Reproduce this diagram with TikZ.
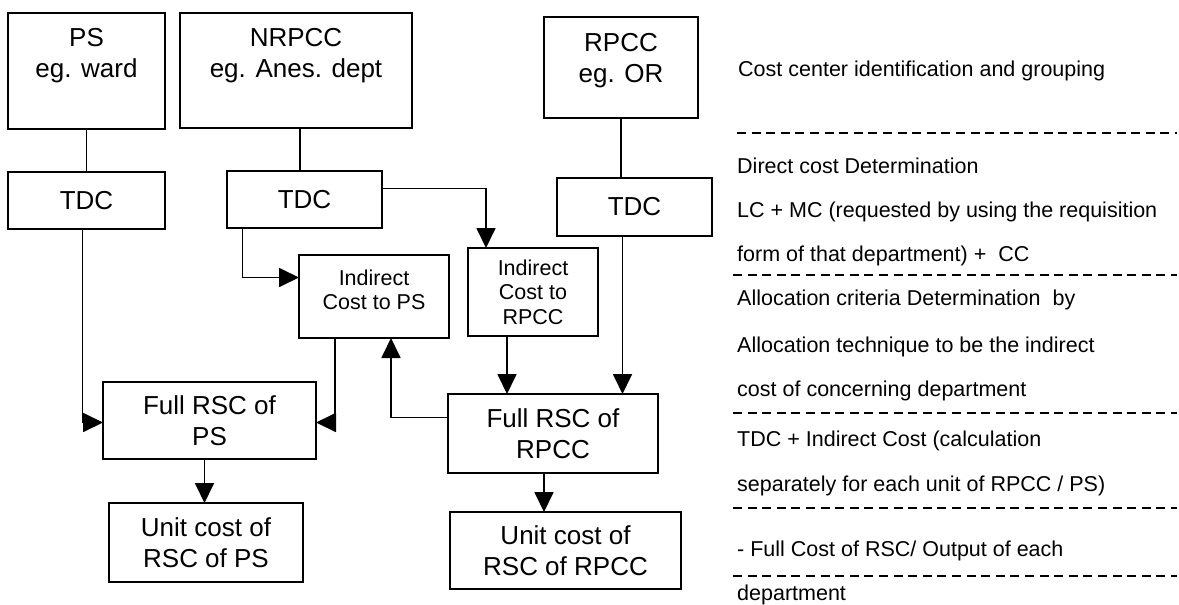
\documentclass[tikz,border=0pt]{standalone}
\usepackage{fontspec}
\setmainfont{Liberation Sans}
\usetikzlibrary{arrows.meta}
\tikzset{
  box/.style={draw=black, line width=1.8pt, rectangle, inner sep=0pt, outer sep=0pt, align=center,
              font=\fontsize{26}{31}\selectfont},
  lbl/.style={inner sep=0pt, align=center, font=\fontsize{26}{31}\selectfont},
  slbl/.style={inner sep=0pt, align=center, font=\fontsize{21.5}{24.5}\selectfont},
  note/.style={inner sep=0pt, anchor=base west, font=\fontsize{21.5}{25}\selectfont},
  conn/.style={draw=black, line width=1.8pt},
  arr/.style={conn, -{Triangle[length=20pt,width=19pt]}},
  sep/.style={draw=black, line width=1.8pt, dash pattern=on 9pt off 5.6pt}
}
\begin{document}
\begin{tikzpicture}[x=1pt,y=-1pt]
\useasboundingbox[fill=white] (0,0) rectangle (1179,605);

% top boxes
\node[box, minimum width=157, minimum height=116] (ps) at (86.5,71) {};
\node[lbl, anchor=north] (pst) at (86.5,28.5) {PS\\eg. ward};
\node[box, minimum width=232, minimum height=115] (nrpcc) at (296,70.5) {};
\node[lbl, anchor=north] (nrpcct) at (296,28.5) {NRPCC\\eg. Anes. dept};
\node[box, minimum width=154, minimum height=101] (rpcc) at (621,67.5) {};
\node[lbl, anchor=north] (rpcct) at (621,33.5) {RPCC\\eg. OR};

% TDC boxes
\node[box, minimum width=157, minimum height=57] (tdc1) at (86.5,200.5) {TDC};
\node[box, minimum width=155, minimum height=57] (tdc2) at (304.5,199.5) {TDC};
\node[box, minimum width=155, minimum height=58] (tdc3) at (634.5,207) {TDC};

% indirect boxes
\node[box, minimum width=150, minimum height=83] (indps) at (374,296.5) {};
\node[slbl] (indpst) at (374,290) {Indirect\\Cost to PS};
\node[box, slbl, minimum width=130, minimum height=88] (indrpcc) at (533,292) {Indirect\\Cost to\\RPCC};

% full RSC boxes
\node[box, minimum width=213, minimum height=77] (fullps) at (209.5,420.5) {Full RSC of\\PS};
\node[box, minimum width=210, minimum height=79] (fullrpcc) at (553,433.5) {Full RSC of\\RPCC};

% unit cost boxes
\node[box, minimum width=194, minimum height=79] (unitps) at (206,542.5) {Unit cost of\\RSC of PS};
\node[box, minimum width=231, minimum height=77] (unitrpcc) at (565.5,550.5) {Unit cost of\\RSC of RPCC};

% connectors
\draw[conn] (ps.south) -- (ps.south |- tdc1.north);
\draw[conn] ([xshift=4pt]nrpcc.south) -- ([xshift=4pt]nrpcc.south |- tdc2.north);
\draw[conn] (rpcc.south) -- (rpcc.south |- tdc3.north);

\draw[arr] ([yshift=11pt]tdc2.east) -| ([xshift=-47pt]indrpcc.north);
\draw[arr] ([xshift=-62pt]tdc2.south) |- ([yshift=19pt]indps.west);
\draw[arr] ([xshift=-4pt]tdc1.south) |- ([yshift=-2pt]fullps.west);
\draw[arr] ([xshift=-39pt]indps.south) |- ([yshift=-2pt]fullps.east);
\draw[arr] ([yshift=16pt]fullrpcc.west) -| ([xshift=17pt]indps.south);
\draw[arr] ([xshift=-26pt]indrpcc.south) -- ([xshift=-26pt]indrpcc.south |- fullrpcc.north);
\draw[arr] ([xshift=-12pt]tdc3.south) -- ([xshift=-12pt]tdc3.south |- fullrpcc.north);
\draw[arr] ([xshift=-5pt]fullps.south) -- ([xshift=-5pt]fullps.south |- unitps.north);
\draw[arr] ([xshift=-9pt]fullrpcc.south) -- ([xshift=-9pt]fullrpcc.south |- unitrpcc.north);

% right-hand notes
\node[note] (n1) at (738,76) {Cost center identification and grouping};
\node[note] (n2) at (737,173) {Direct cost Determination};
\node[note] (n3) at (737,217) {LC + MC (requested by using the requisition};
\node[note] (n4) at (737,261) {form of that department) +\ \ CC};
\node[note] (n5) at (737,305) {Allocation criteria Determination\ \ by};
\node[note] (n6) at (737,352) {Allocation technique to be the indirect};
\node[note] (n7) at (737,396) {cost of concerning department};
\node[note] (n8) at (737,446) {TDC + Indirect Cost (calculation};
\node[note] (n9) at (737,491) {separately for each unit of RPCC / PS)};
\node[note] (n10) at (737,556) {- Full Cost of RSC/ Output of each};
\node[note] (n11) at (737,600) {department};

\draw[sep] (737,133) -- (1177,133);
\draw[sep] (733,275) -- (1177,275);
\draw[sep] (733,413) -- (1177,413);
\draw[sep] (733,508) -- (1177,508);
\draw[sep] (733,576) -- (1177,576);
\end{tikzpicture}
\end{document}
